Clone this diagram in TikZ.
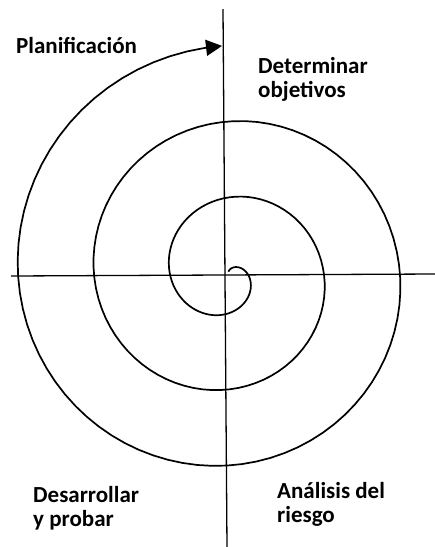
\documentclass[tikz,border=0pt]{standalone}
\usepackage{fontspec}
\setmainfont{Carlito}
\usepackage{tikz}
\usetikzlibrary{arrows.meta, positioning, calc}

\begin{document}
\begin{tikzpicture}[
        x=1pt, y=-1pt,
        font=\fontsize{23}{24}\selectfont\bfseries,
        axis/.style  ={line width=1.3pt},
        spiral/.style={line width=1.7pt, -{Triangle[length=16pt, width=16pt]}},
        phase/.style ={anchor=base west, align=left, inner sep=0pt}
    ]
    \useasboundingbox (0,0) rectangle (435,547);

    %% ===== axes =====
    \coordinate (vtop) at (223,9);   \coordinate (vbot) at (227,547);
    \coordinate (hleft) at (11,276); \coordinate (hright) at (435,274);
    \draw[axis] (vtop) -- (vbot);
    \draw[axis] (hleft) -- (hright);

    %% ===== spiral: r grows 19 per quarter turn, clockwise from the centre
    \draw[spiral] plot[domain=-351:718.5, samples=241]
        ({228 + (77 + 19*\x/90)*sin(\x)}, {274.5 - (77 + 19*\x/90)*cos(\x)});

    %% ===== quadrant labels (base = last line) =====
    \node[phase] (plan) at (16,53)  {Planificación};
    \node[phase] (goal) at (258,97) {Determinar\\objetivos};
    \node[phase] (build) at (33,526) {Desarrollar\\y probar};
    \node[phase] (risk) at (277,522) {Análisis del\\riesgo};
\end{tikzpicture}
\end{document}
